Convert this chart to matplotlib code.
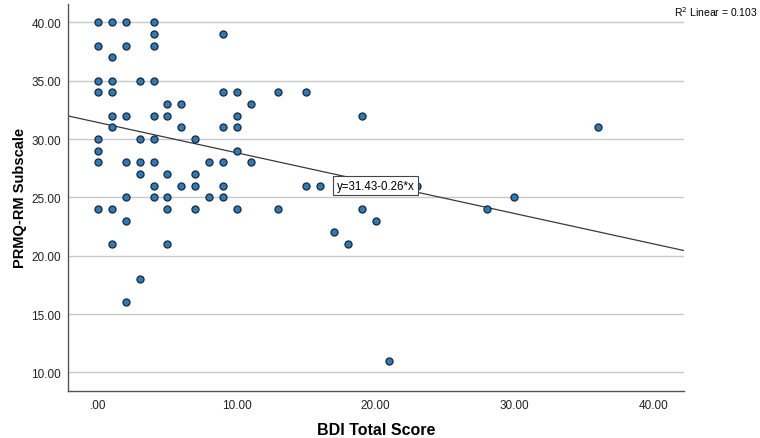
import numpy as np
import matplotlib.pyplot as plt

plt.rcParams['font.family'] = ['Liberation Sans', 'DejaVu Sans']

# BDI total score (x) and PRMQ-RM subscale (y)
bdi = [0, 1, 2, 4,
       4, 9,
       0, 2, 4,
       1,
       0, 1, 3, 4,
       0, 1, 9, 10, 13, 15,
       5, 6, 11,
       1, 2, 4, 5, 10, 19,
       1, 6, 9, 10, 36,
       0, 3, 4, 7,
       0, 10,
       0, 2, 3, 4, 8, 9, 11,
       3, 5, 7,
       4, 6, 7, 9, 15, 16, 23,
       2, 4, 5, 8, 9, 30,
       0, 1, 5, 7, 10, 13, 19, 28,
       2, 20,
       17,
       1, 5, 18,
       3,
       2,
       21]
prmq = [40, 40, 40, 40,
        39, 39,
        38, 38, 38,
        37,
        35, 35, 35, 35,
        34, 34, 34, 34, 34, 34,
        33, 33, 33,
        32, 32, 32, 32, 32, 32,
        31, 31, 31, 31, 31,
        30, 30, 30, 30,
        29, 29,
        28, 28, 28, 28, 28, 28, 28,
        27, 27, 27,
        26, 26, 26, 26, 26, 26, 26,
        25, 25, 25, 25, 25, 25,
        24, 24, 24, 24, 24, 24, 24, 24,
        23, 23,
        22,
        21, 21, 21,
        18,
        16,
        11]

intercept = 31.43
slope = -0.26
r2 = 0.103

x_ticks = [0, 10, 20, 30, 40]
x_tick_labels = ['.00', '10.00', '20.00', '30.00', '40.00']
y_ticks = [10, 15, 20, 25, 30, 35, 40]
y_tick_labels = ['10.00', '15.00', '20.00', '25.00', '30.00', '35.00', '40.00']

fig = plt.figure(figsize=(7.6, 4.39), dpi=100)
ax = fig.add_axes([0.0895, 0.107, 0.81, 0.882])

xlim = (-2.16, 42.2)
ylim = (8.41, 41.6)

for yt in y_ticks:
    ax.axhline(yt, color='#c8c8c8', lw=1.0, zorder=1)

xs = np.array(xlim)
ax.plot(xs, intercept + slope * xs, color='#3a3a3a', lw=0.9, zorder=2)

ax.scatter(bdi, prmq, s=26, color='#2b7bba', edgecolors='#1b2a3a',
           linewidths=0.9, zorder=3)

ax.text(20.0, 26.0, 'y=31.43-0.26*x', fontsize=8.3, ha='center', va='center',
        bbox=dict(boxstyle='square,pad=0.3', fc='white', ec='#444444', lw=0.8),
        zorder=4)

ax.set_xlim(*xlim)
ax.set_ylim(*ylim)
ax.set_xticks(x_ticks)
ax.set_xticklabels(x_tick_labels)
ax.set_yticks(y_ticks)
ax.set_yticklabels(y_tick_labels)
ax.tick_params(length=0, labelsize=8.5, colors='#222222', pad=6)
ax.tick_params(axis='y', pad=5)

for s in ['top', 'right']:
    ax.spines[s].set_visible(False)
for s in ['left', 'bottom']:
    ax.spines[s].set_color('#555555')
    ax.spines[s].set_linewidth(1.0)

ax.set_xlabel('BDI Total Score', fontsize=11.5, fontweight='bold', labelpad=8)
ax.set_ylabel('PRMQ-RM Subscale', fontsize=10.5, fontweight='bold', labelpad=3)

fig.text(0.997, 0.973, 'R$^2$ Linear = 0.103', fontsize=7.5, ha='right', va='center')

fig.savefig('out.png', dpi=100)
